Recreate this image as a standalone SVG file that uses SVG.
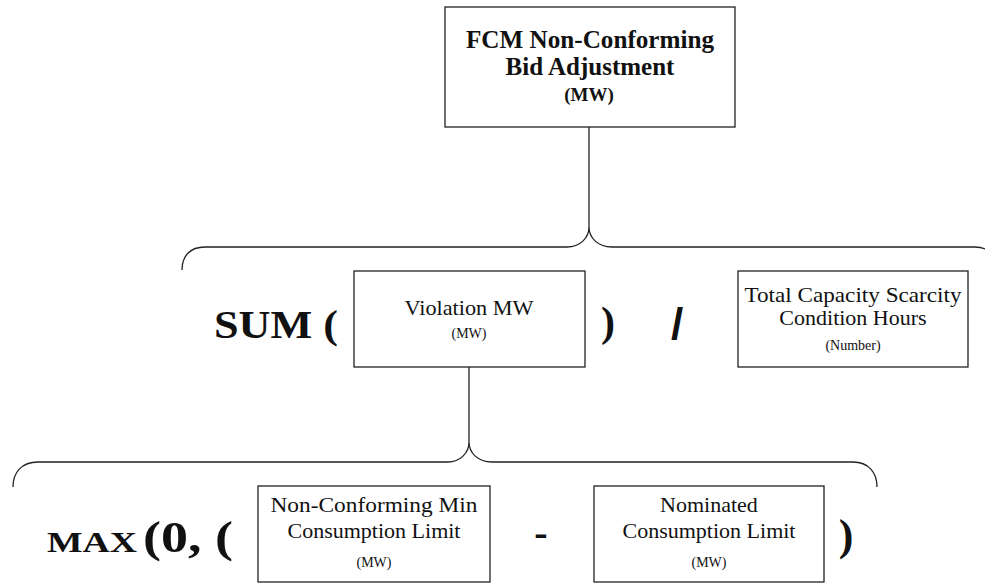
<svg xmlns="http://www.w3.org/2000/svg" width="985" height="583" viewBox="0 0 985 583">
<style>
.box{fill:#fff;stroke:#222;stroke-width:1.3}
.ln{fill:none;stroke:#222;stroke-width:1.3}
text{font-family:"Liberation Serif","Times New Roman",serif;fill:#111;text-anchor:middle}
.t{font-size:22px}
.s{font-size:14px}
.hb{font-size:25px;font-weight:bold}
.hs{font-size:19px;font-weight:bold}
.op{font-weight:bold}
</style>
<rect width="985" height="583" fill="#fff"/>
<g id="connectors">
<path class="ln" d="M589,127 L589,227"/>
<path class="ln" d="M182,270 C182,256 190,247 205,247 L567,247 C580,247 589,238 589,227 C589,238 598,247 612,247 L975,247 C990,247 997,257 997,270"/>
<path class="ln" d="M469,367 L469,442"/>
<path class="ln" d="M13,487 C13,472 22,462 38,462 L448,462 C460,462 469,453 469,442 C469,453 478,462 492,462 L853,462 C868,462 877,472 877,487"/>
</g>
<g id="node-fcm">
<rect class="box" x="445" y="7" width="290" height="120"/>
<text class="hb" x="590" y="48" textLength="248" lengthAdjust="spacingAndGlyphs">FCM Non-Conforming</text>
<text class="hb" x="590" y="75">Bid Adjustment</text>
<text class="hs" x="589" y="101">(MW)</text>
</g>
<g id="node-violation">
<rect class="box" x="354" y="271" width="231" height="96"/>
<text class="t" x="469" y="315" textLength="129" lengthAdjust="spacingAndGlyphs">Violation MW</text>
<text class="s" x="469" y="338">(MW)</text>
</g>
<g id="node-hours">
<rect class="box" x="738" y="271" width="230" height="96"/>
<text class="t" x="853" y="302" textLength="217" lengthAdjust="spacingAndGlyphs">Total Capacity Scarcity</text>
<text class="t" x="853" y="325">Condition Hours</text>
<text class="s" x="853" y="350">(Number)</text>
</g>
<g id="node-ncmin">
<rect class="box" x="258" y="486" width="232" height="96"/>
<text class="t" x="374" y="512" textLength="207" lengthAdjust="spacingAndGlyphs">Non-Conforming Min</text>
<text class="t" x="374" y="538">Consumption Limit</text>
<text class="s" x="374" y="567">(MW)</text>
</g>
<g id="node-nominated">
<rect class="box" x="594" y="486" width="230" height="96"/>
<text class="t" x="709" y="512">Nominated</text>
<text class="t" x="709" y="538">Consumption Limit</text>
<text class="s" x="709" y="567">(MW)</text>
</g>
<g id="operators">
<text class="op" x="276" y="338" font-size="40" textLength="124" lengthAdjust="spacingAndGlyphs">SUM (</text>
<text class="op" x="608" y="336" font-size="42">)</text>
<text class="op" x="677" y="339" font-size="44" style="font-family:'Liberation Sans',Arial,sans-serif">/</text>
<text class="op" x="92" y="552" font-size="30" textLength="90" lengthAdjust="spacingAndGlyphs">MAX</text>
<text class="op" x="188" y="552" font-size="44" textLength="90" lengthAdjust="spacingAndGlyphs">(0, (</text>
<text class="op" x="541" y="546" font-size="40">-</text>
<text class="op" x="846" y="550" font-size="44">)</text>
</g>
</svg>
